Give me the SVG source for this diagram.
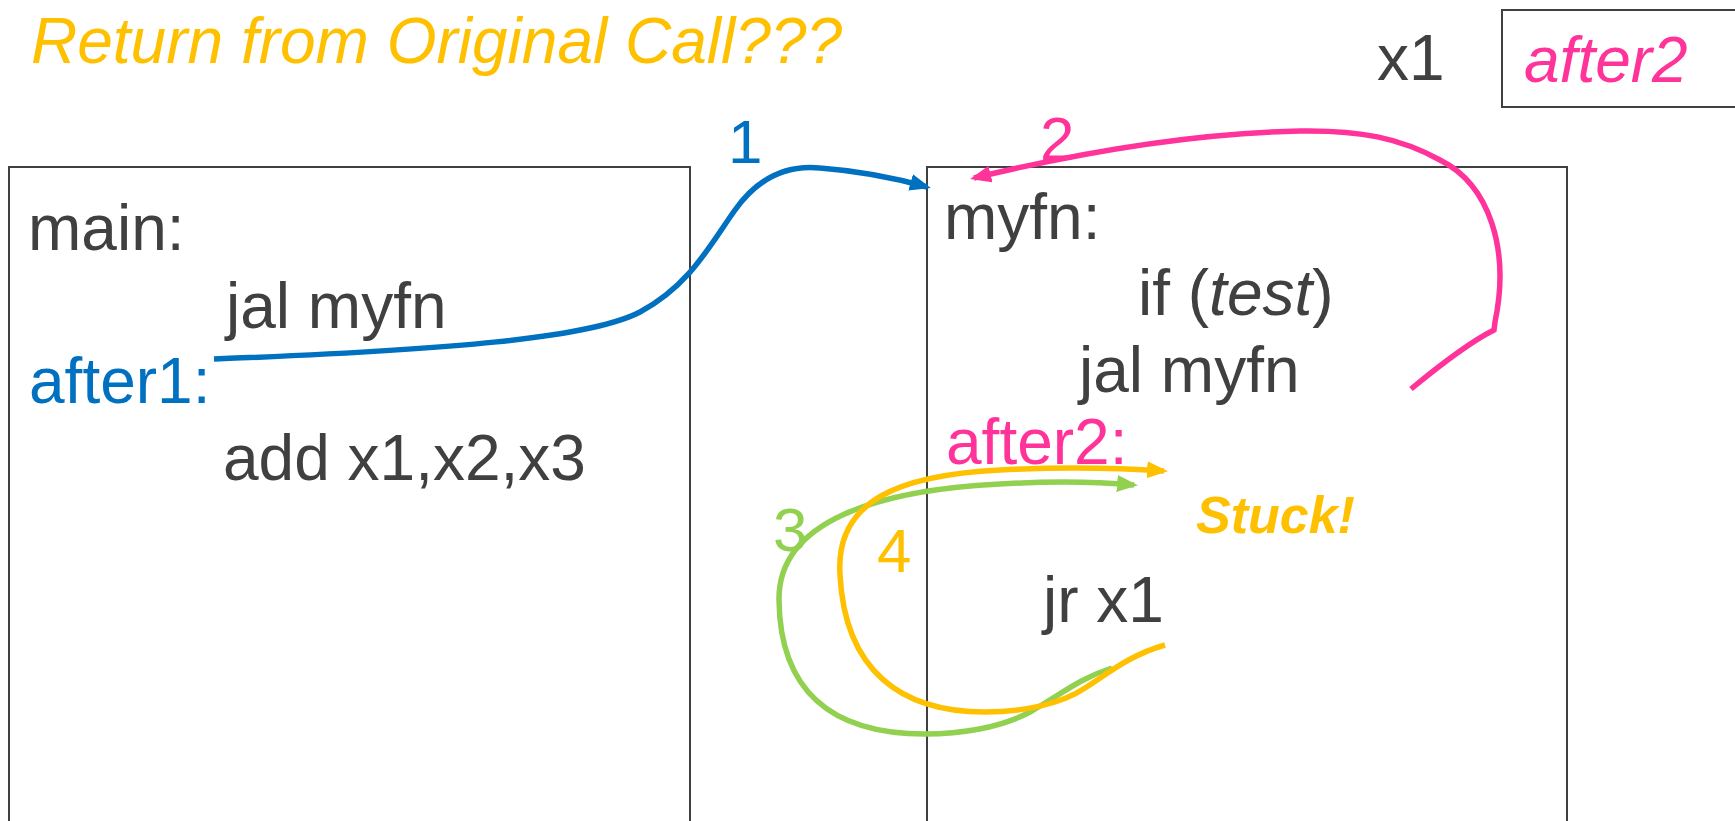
<svg xmlns="http://www.w3.org/2000/svg" width="1735" height="821" viewBox="0 0 1735 821">
<style>
text{font-family:"Liberation Sans",Arial,sans-serif;font-size:64px;fill:#404040}
.box{fill:#fff;stroke:#404040;stroke-width:2}
.blue{fill:#0070C0}.pink{fill:#FF3399}.green{fill:#92D050}.orange{fill:#FFC000}
.it{font-style:italic}
.con{fill:none;stroke-width:5.5;stroke-linecap:butt}
</style>
<defs>
<marker id="aB" markerUnits="userSpaceOnUse" markerWidth="24" markerHeight="18" refX="17" refY="8.5" orient="auto"><path d="M0,0 L21,8.5 L0,17 z" fill="#0070C0"/></marker>
<marker id="aP" markerUnits="userSpaceOnUse" markerWidth="24" markerHeight="18" refX="17" refY="8.5" orient="auto"><path d="M0,0 L21,8.5 L0,17 z" fill="#FF3399"/></marker>
<marker id="aG" markerUnits="userSpaceOnUse" markerWidth="24" markerHeight="18" refX="17" refY="8.5" orient="auto"><path d="M0,0 L21,8.5 L0,17 z" fill="#92D050"/></marker>
<marker id="aO" markerUnits="userSpaceOnUse" markerWidth="24" markerHeight="18" refX="17" refY="8.5" orient="auto"><path d="M0,0 L21,8.5 L0,17 z" fill="#FFC000"/></marker>
</defs>
<rect width="1735" height="821" fill="#fff"/>
<text class="orange it" x="31" y="63">Return from Original Call???</text>
<g id="reg">
<text x="1377" y="80">x1</text>
<rect class="box" x="1502" y="10" width="260" height="97"/>
<text class="pink it" x="1524" y="82">after2</text>
</g>
<g id="main">
<rect class="box" x="9" y="167" width="681" height="680"/>
<text x="28" y="250">main:</text>
<text x="226" y="328">jal myfn</text>
<text class="blue" x="29" y="403">after1:</text>
<text x="223" y="480">add x1,x2,x3</text>
</g>
<g id="myfn">
<rect class="box" x="927" y="167" width="640" height="680"/>
<text x="944" y="239">myfn:</text>
<text x="1138" y="315">if (<tspan class="it">test</tspan>)</text>
<text x="1079" y="392">jal myfn</text>
<text class="pink" x="946" y="464">after2:</text>
<text x="1043" y="622">jr x1</text>
<text class="orange" x="1196" y="533" style="font-size:52px;font-weight:bold;font-style:italic">Stuck!</text>
</g>
<g id="connectors">
<path class="con" stroke="#0070C0" d="M214,359 C450,350 590,338 640,312 C690,285 710,245 735,210 C760,175 790,165 820,168 C860,171 895,178 927,187" marker-end="url(#aB)"/>
<path class="con" stroke="#FF3399" d="M1411,389 C1440,365 1470,342 1494,330 L1495,322 C1510,250 1490,185 1440,160 C1400,138 1360,130 1300,131 C1200,133 1090,150 974,178" marker-end="url(#aP)"/>
<path class="con" stroke="#92D050" d="M1112,668 C1080,678 1060,695 1030,712 C1000,728 960,734 925,734 C830,734 780,690 779,600 C778,520 880,490 1000,484 C1050,481 1100,482 1134,485" marker-end="url(#aG)"/>
<path class="con" stroke="#FFC000" d="M1165,645 C1130,655 1110,672 1085,688 C1060,705 1020,712 985,712 C900,712 845,670 840,575 C835,500 900,475 1000,470 C1060,467 1120,468 1164,471" marker-end="url(#aO)"/>
<text class="blue" x="728" y="163" style="font-size:62px">1</text>
<text class="pink" x="1040" y="160" style="font-size:62px">2</text>
<text class="green" x="773" y="551" style="font-size:62px">3</text>
<text class="orange" x="877" y="572" style="font-size:62px">4</text>
</g>
</svg>
